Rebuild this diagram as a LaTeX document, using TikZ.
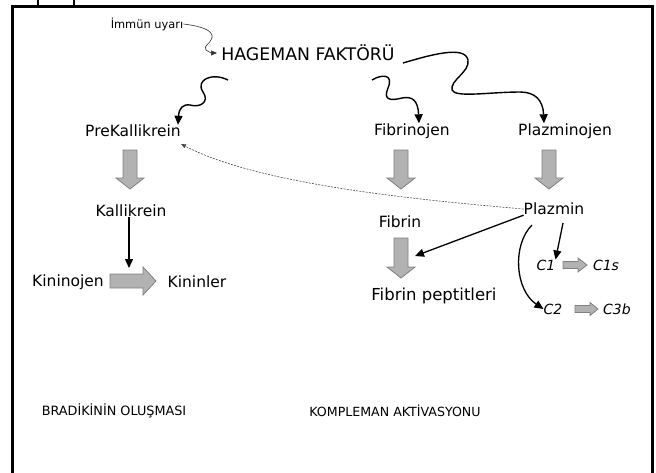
\documentclass[tikz,border=0pt]{standalone}
\usepackage{fontspec}
\setmainfont{DejaVu Sans}
\usetikzlibrary{arrows.meta}
\tikzset{
  lbl/.style={inner sep=0pt, anchor=center, font=\fontsize{15.5}{17}\selectfont},
  clbl/.style={lbl, font=\fontsize{14}{16}\selectfont\itshape},
  grayarr/.style={fill=black!30, draw=black!50, line width=0.8pt},
  wavy/.style={line width=1.4pt, -{Triangle[length=9pt,width=8pt]}},
  blk/.style={line width=1.3pt, -{Triangle[length=9pt,width=8pt]}},
  thinarr/.style={line width=0.6pt, black!80, -{Triangle[length=6pt,width=5pt]}},
  dotarr/.style={line width=0.6pt, black!70, dash pattern=on 2pt off 1.2pt, -{Triangle[length=5pt,width=4pt]}},
}
\newcommand\dnarrow[3]{% center x, top y, bottom y
  \draw[grayarr] ({#1-7},#2) -- ({#1+7},#2) -- ({#1+7},{#3-11}) -- ({#1+14},{#3-11}) -- (#1,#3) -- ({#1-14},{#3-11}) -- ({#1-7},{#3-11}) -- cycle;}
\newcommand\rtarrow[6]{% left x, right x, mid y, shaft half, head half, head length
  \draw[grayarr] (#1,{#3-#4}) -- ({#2-#6},{#3-#4}) -- ({#2-#6},{#3-#5}) -- (#2,#3) -- ({#2-#6},{#3+#5}) -- ({#2-#6},{#3+#4}) -- (#1,{#3+#4}) -- cycle;}
\begin{document}
\begin{tikzpicture}[x=1pt,y=-1pt]
\useasboundingbox (0,0) rectangle (656,472);
% frame
\draw[line width=3pt] (12,480) -- (12,6) -- (652,6) -- (652,480);
\draw[line width=2pt] (38,0) -- (38,5);
\draw[line width=2pt] (74,0) -- (74,5);

% nodes
\node[lbl, font=\fontsize{11.4}{12}\selectfont] (imm) at (147,24) {İmmün uyarı};
\node[lbl, font=\fontsize{17.3}{19}\selectfont] (hf) at (308,53) {HAGEMAN FAKTÖRÜ};
\node[lbl] (pk) at (133,131) {PreKallikrein};
\node[lbl] (fbj) at (412,131) {Fibrinojen};
\node[lbl] (plj) at (565,131) {Plazminojen};
\node[lbl] (kal) at (131,211) {Kallikrein};
\node[lbl] (kij) at (68,282) {Kininojen};
\node[lbl] (kil) at (197,282) {Kininler};
\node[lbl] (plz) at (554,209) {Plazmin};
\node[lbl] (fb) at (400,222) {Fibrin};
\node[lbl, font=\fontsize{16.5}{18}\selectfont] (fbp) at (434,296) {Fibrin peptitleri};
\node[clbl] (c1) at (546,265) {C1};
\node[clbl] (c1s) at (606,265) {C1s};
\node[clbl] (c2) at (553,309) {C2};
\node[clbl] (c3b) at (617,309) {C3b};
\node[lbl, font=\fontsize{12.8}{14}\selectfont] (brad) at (114,411) {BRADİKİNİN OLUŞMASI};
\node[lbl, font=\fontsize{12.6}{14}\selectfont] (komp) at (395,411) {KOMPLEMAN AKTİVASYONU};

% gray block arrows
\dnarrow{130}{150}{189}
\dnarrow{401}{150}{189}
\dnarrow{549}{150}{189}
\dnarrow{401}{238}{278}
\rtarrow{110}{156}{281}{7}{14}{13}
\rtarrow{563}{587}{265}{3.5}{7}{9}
\rtarrow{575}{598}{309}{3.5}{6.5}{8}
\coordinate (kinarr) at (129,268);
\coordinate (fbarr) at (415,256);

% connectors
\draw[thinarr] (imm.east) .. controls (200,26) and (214,30) .. (212,38) .. controls (210,44) and (203,46) .. (206,50) .. controls (208,52) and (212,53) .. (217,53);
\draw[wavy] (228,80) .. controls (212,72) and (195,80) .. (203,92) .. controls (210,102) and (200,108) .. (190,105) .. controls (183,104) and (179,108) .. (pk.north -| 178,0);
\draw[wavy] (372,80) .. controls (382,74) and (394,74) .. (388,88) .. controls (383,100) and (390,101) .. (402,98) .. controls (412,96) and (418,100) .. (fbj.north -| 419,0);
\draw[wavy] (403,63) .. controls (430,55) and (465,45) .. (468,60) .. controls (470,72) and (450,80) .. (452,90) .. controls (455,98) and (490,92) .. (520,92) .. controls (535,92) and (543,100) .. (plj.north -| 544,0);
\draw[dotarr] (plz.west) .. controls (420,200) and (260,185) .. (pk.east |- 0,144) ;
\draw[blk] (kal.south -| kinarr) -- (kinarr);
\draw[blk] (plz.south west) -- (fbarr);
\draw[blk] (563,223) -- (c1.north east);
\draw[blk] (532,225) .. controls (512,245) and (515,290) .. (c2.west);
\end{tikzpicture}
\end{document}
